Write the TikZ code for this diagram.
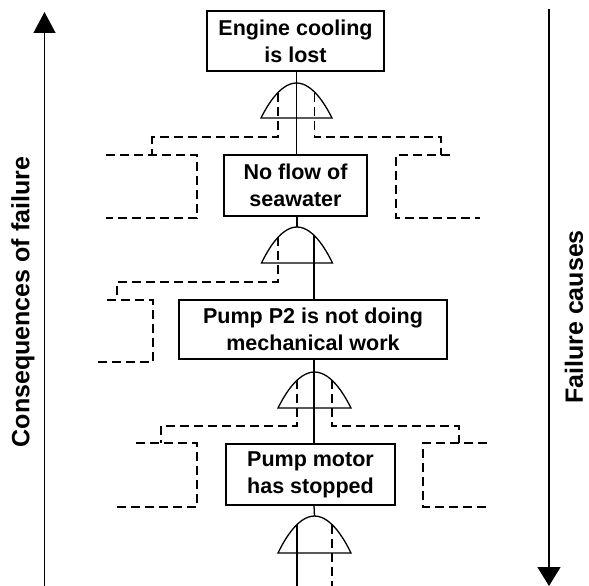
\documentclass[tikz,border=0pt]{standalone}
\usepackage{fontspec}
\setmainfont{Liberation Sans}
\usetikzlibrary{arrows.meta}
\tikzset{
  box/.style={draw, line width=1.2pt, inner sep=0pt, align=center,
    font=\fontsize{21.5}{27}\selectfont\bfseries},
  sidelabel/.style={rotate=90, inner sep=0pt,
    font=\fontsize{25}{30}\selectfont\bfseries},
  conn/.style={line width=1.3pt},
  dconn/.style={line width=1.3pt, dash pattern=on 9pt off 5pt},
  gateshape/.style={line width=1.3pt},
  axis/.style={line width=1.3pt},
}
\begin{document}
\begin{tikzpicture}[x=1pt,y=-1pt]
\useasboundingbox (0,0) rectangle (589,586);

% boxes
\node[box, minimum width=177pt, minimum height=60pt] (b1) at (295.5,41) {Engine cooling\\is lost};
\node[box, minimum width=143pt, minimum height=61pt] (b2) at (295.5,185.5) {No flow of\\seawater};
\node[box, minimum width=268pt, minimum height=59pt] (b3) at (313,329.5) {Pump P2 is not doing\\mechanical work};
\node[box, minimum width=169pt, minimum height=61pt] (b4) at (310.5,474.5) {Pump motor\\has stopped};

% gates
\coordinate (g1) at (296.5,83);
\coordinate (g2) at (297,227);
\coordinate (g3) at (314.5,372);
\coordinate (g4) at (314.5,516);
\draw[gateshape] (261,118) parabola bend (g1) (332,118) -- cycle;
\draw[gateshape] (261.5,263) parabola bend (g2) (332.5,263) -- cycle;
\draw[gateshape] (278,408) parabola bend (g3) (351,408) -- cycle;
\draw[gateshape] (278,553) parabola bend (g4) (351,553) -- cycle;

% solid connectors
\draw[conn] (296.7,0 |- b1.south) -- (296.7,0 |- b2.north);
\draw[conn] (297,0 |- b2.south) -- (g2);
\draw[conn] (314,235.3) -- (314,0 |- b3.north);
\draw[conn] (314,0 |- b3.south) -- (314,0 |- b4.north);
\draw[conn] (314,0 |- b4.south) -- (g4);
\coordinate (end1) at (297,586);
\draw[conn] (297,524.5) -- (end1);

% dashed connectors
\draw[dconn] (278,92.5) -- (278,137) -- (152,137) -- (152,155);
\draw[dconn] (314.5,92.5) -- (314.5,137) -- (441,137) -- (441,155);
\draw[dconn] (278,237.3) -- (278,282) -- (117,282) -- (117,300);
\draw[dconn] (297,380.3) -- (297,426) -- (161,426) -- (161,443);
\draw[dconn] (332,380.3) -- (332,426) -- (459,426) -- (459,443);
\coordinate (end2) at (332,586);
\draw[dconn] (332,524.5) -- (end2);

% open dashed boxes
\draw[dconn] (106,155) -- (197,155) -- (197,218) -- (106,218);
\draw[dconn] (450,155) -- (396,155) -- (396,218) -- (480,218);
\draw[dconn] (107,300) -- (153,300) -- (153,362) -- (95,362);
\draw[dconn] (136,443) -- (197,443) -- (197,507) -- (115,507);
\draw[dconn] (487,443) -- (423,443) -- (423,507) -- (487,507);

% side axes
\coordinate (la0) at (44.5,586);
\coordinate (la1) at (44.5,12);
\draw[axis, -{Triangle[length=21pt,width=22pt]}] (la0) -- (la1);
\coordinate (ra0) at (549,9);
\coordinate (ra1) at (549,586);
\draw[axis, -{Triangle[length=19pt,width=23pt]}] (ra0) -- (ra1);

\node[sidelabel] (lc) at (23,302) {Consequences of failure};
\node[sidelabel] (rc) at (574,317) {Failure causes};
\end{tikzpicture}
\end{document}
